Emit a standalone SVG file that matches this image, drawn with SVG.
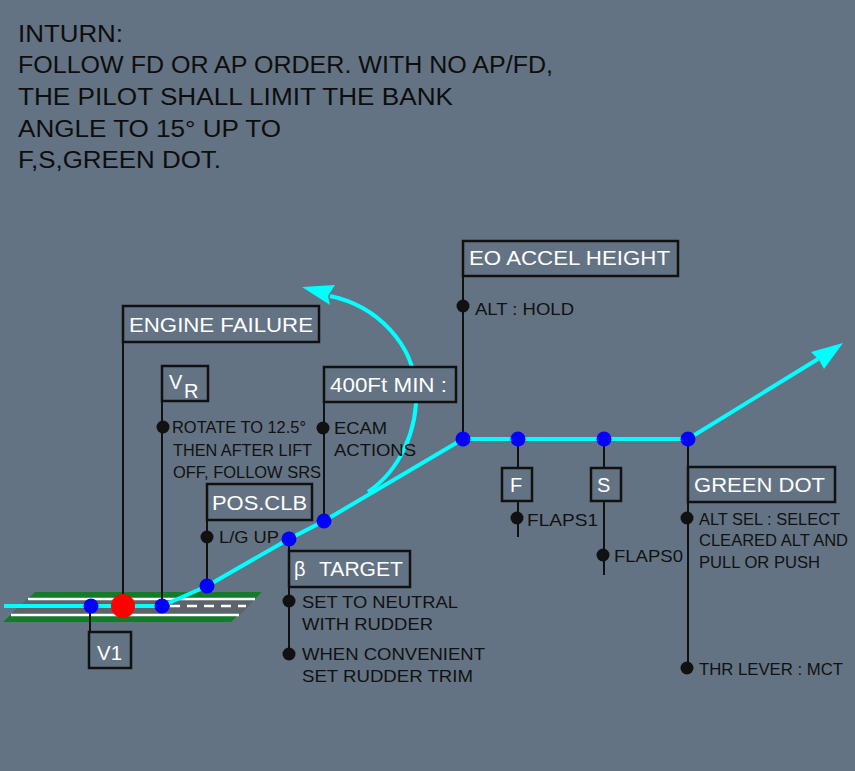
<svg xmlns="http://www.w3.org/2000/svg" width="855" height="771" viewBox="0 0 855 771">
<style>
.bg{fill:#637383}
.box{fill:#637383;stroke:#111;stroke-width:2.5}
.bt{font-family:"Liberation Sans",Arial,sans-serif;font-size:20px;fill:#fff}
.lt{font-family:"Liberation Sans",Arial,sans-serif;font-size:17px;fill:#111}
.tt{font-family:"Liberation Sans",Arial,sans-serif;font-size:23px;fill:#0d0d0d}
.ln{stroke:#111;stroke-width:2;fill:none}
.cy{stroke:#00ffff;stroke-width:4;fill:none}
.bd{fill:#0000ff}
.kd{fill:#111}
</style>
<rect class="bg" x="0" y="0" width="855" height="771"/>

<g id="title">
<text class="tt" x="18" y="42" textLength="105" lengthAdjust="spacingAndGlyphs">INTURN:</text>
<text class="tt" x="18" y="73" textLength="535" lengthAdjust="spacingAndGlyphs">FOLLOW FD OR AP ORDER. WITH NO AP/FD,</text>
<text class="tt" x="18" y="105" textLength="435" lengthAdjust="spacingAndGlyphs">THE PILOT SHALL LIMIT THE BANK</text>
<text class="tt" x="18" y="137" textLength="263" lengthAdjust="spacingAndGlyphs">ANGLE TO 15° UP TO</text>
<text class="tt" x="18" y="168" textLength="203" lengthAdjust="spacingAndGlyphs">F,S,GREEN DOT.</text>
</g>

<g id="runway">
<polygon points="35,592 262,592 231,622 3,622" fill="#157a2a"/>
<polygon points="28,599 255,599 240,615 11,615" fill="#5c636b"/>
<line x1="28" y1="599" x2="255" y2="599" stroke="#fff" stroke-width="2.5"/>
<line x1="11" y1="615" x2="239" y2="615" stroke="#fff" stroke-width="2.5"/>
<line x1="170" y1="606" x2="246" y2="606" stroke="#fff" stroke-width="2.5" stroke-dasharray="10,7"/>
</g>

<g id="connectors">
<line class="ln" x1="123" y1="342" x2="123" y2="606"/>
<line class="ln" x1="162" y1="401" x2="162" y2="606"/>
<line class="ln" x1="207" y1="520" x2="207" y2="586"/>
<line class="ln" x1="324" y1="402" x2="324" y2="521"/>
<line class="ln" x1="463" y1="276" x2="463" y2="439"/>
<line class="ln" x1="518" y1="439" x2="518" y2="537"/>
<line class="ln" x1="604" y1="439" x2="604" y2="575"/>
<line class="ln" x1="688" y1="439" x2="688" y2="668"/>
<line class="ln" x1="289" y1="539" x2="289" y2="654"/>
<line class="ln" x1="90" y1="606" x2="90" y2="632"/>
<polyline class="cy" points="4,606 162,606 207,586 289,539 324,521 463,439 688,439 818,359"/>
<polygon points="843,343 811,352 819,360 824,369" fill="#00ffff"/>
<path class="cy" d="M368,492 C400,470 418,430 416,390 C414,345 378,306 330,296"/>
<polygon points="302,287 335,285 328,296 330,305" fill="#00ffff"/>
</g>

<g id="engine-failure">
<rect class="box" x="123" y="306" width="196" height="36"/>
<text class="bt" x="129" y="332" textLength="184" lengthAdjust="spacingAndGlyphs">ENGINE FAILURE</text>
</g>

<g id="vr">
<rect class="box" x="162" y="366" width="46" height="35"/>
<text class="bt" x="169" y="389">V</text>
<text class="bt" x="184" y="398">R</text>
<circle class="kd" cx="163" cy="427" r="6.5"/>
<text class="lt" x="172" y="433" textLength="134" lengthAdjust="spacingAndGlyphs">ROTATE TO 12.5°</text>
<text class="lt" x="173" y="456" textLength="139" lengthAdjust="spacingAndGlyphs">THEN AFTER LIFT</text>
<text class="lt" x="173" y="478" textLength="148" lengthAdjust="spacingAndGlyphs">OFF, FOLLOW SRS</text>
</g>

<g id="pos-clb">
<rect class="box" x="207" y="484" width="105" height="36"/>
<text class="bt" x="212" y="510" textLength="95" lengthAdjust="spacingAndGlyphs">POS.CLB</text>
<circle class="kd" cx="207" cy="537" r="6.5"/>
<text class="lt" x="219" y="543" textLength="60" lengthAdjust="spacingAndGlyphs">L/G UP</text>
</g>

<g id="min400">
<rect class="box" x="324" y="367" width="132" height="35"/>
<text class="bt" x="330" y="392" textLength="117" lengthAdjust="spacingAndGlyphs">400Ft MIN :</text>
<circle class="kd" cx="323" cy="428" r="6.5"/>
<text class="lt" x="334" y="434" textLength="53" lengthAdjust="spacingAndGlyphs">ECAM</text>
<text class="lt" x="334" y="456" textLength="82" lengthAdjust="spacingAndGlyphs">ACTIONS</text>
</g>

<g id="eo-accel">
<rect class="box" x="463" y="241" width="215" height="35"/>
<text class="bt" x="469" y="265" textLength="201" lengthAdjust="spacingAndGlyphs">EO ACCEL HEIGHT</text>
<circle class="kd" cx="463" cy="306" r="6.5"/>
<text class="lt" x="475" y="315" textLength="99" lengthAdjust="spacingAndGlyphs">ALT : HOLD</text>
</g>

<g id="f">
<rect class="box" x="502" y="468" width="30" height="33"/>
<text class="bt" x="510" y="492">F</text>
<circle class="kd" cx="517" cy="518" r="6.5"/>
<text class="lt" x="527" y="526" textLength="71" lengthAdjust="spacingAndGlyphs">FLAPS1</text>
</g>

<g id="s">
<rect class="box" x="591" y="468" width="30" height="33"/>
<text class="bt" x="597" y="492">S</text>
<circle class="kd" cx="603" cy="555" r="6.5"/>
<text class="lt" x="614" y="562" textLength="69" lengthAdjust="spacingAndGlyphs">FLAPS0</text>
</g>

<g id="green-dot">
<rect class="box" x="688" y="467" width="147" height="35"/>
<text class="bt" x="694" y="492" textLength="131" lengthAdjust="spacingAndGlyphs">GREEN DOT</text>
<circle class="kd" cx="687" cy="518" r="6.5"/>
<text class="lt" x="699" y="525" textLength="141" lengthAdjust="spacingAndGlyphs">ALT SEL : SELECT</text>
<text class="lt" x="699" y="546" textLength="149" lengthAdjust="spacingAndGlyphs">CLEARED ALT AND</text>
<text class="lt" x="699" y="568" textLength="121" lengthAdjust="spacingAndGlyphs">PULL OR PUSH</text>
<circle class="kd" cx="687" cy="668" r="6.5"/>
<text class="lt" x="699" y="675" textLength="144" lengthAdjust="spacingAndGlyphs">THR LEVER : MCT</text>
</g>

<g id="beta-target">
<rect class="box" x="289" y="551" width="121" height="36"/>
<text class="bt" x="294" y="576">β</text>
<text class="bt" x="319" y="576" textLength="84" lengthAdjust="spacingAndGlyphs">TARGET</text>
<circle class="kd" cx="289" cy="601" r="6.5"/>
<text class="lt" x="302" y="608" textLength="156" lengthAdjust="spacingAndGlyphs">SET TO NEUTRAL</text>
<text class="lt" x="302" y="630" textLength="131" lengthAdjust="spacingAndGlyphs">WITH RUDDER</text>
<circle class="kd" cx="289" cy="654" r="6.5"/>
<text class="lt" x="302" y="660" textLength="183" lengthAdjust="spacingAndGlyphs">WHEN CONVENIENT</text>
<text class="lt" x="302" y="682" textLength="171" lengthAdjust="spacingAndGlyphs">SET RUDDER TRIM</text>
</g>

<g id="v1">
<rect class="box" x="89" y="632" width="42" height="36"/>
<text class="bt" x="97" y="660" textLength="25" lengthAdjust="spacingAndGlyphs">V1</text>
</g>

<g id="points">
<circle class="bd" cx="91" cy="606" r="7.5"/>
<circle cx="123" cy="606" r="12" fill="#ff0000"/>
<circle class="bd" cx="162" cy="606" r="7.5"/>
<circle class="bd" cx="207" cy="586" r="7.5"/>
<circle class="bd" cx="289" cy="539" r="7.5"/>
<circle class="bd" cx="324" cy="521" r="7.5"/>
<circle class="bd" cx="463" cy="439" r="7.5"/>
<circle class="bd" cx="518" cy="439" r="7.5"/>
<circle class="bd" cx="604" cy="439" r="7.5"/>
<circle class="bd" cx="688" cy="439" r="7.5"/>
</g>
</svg>
